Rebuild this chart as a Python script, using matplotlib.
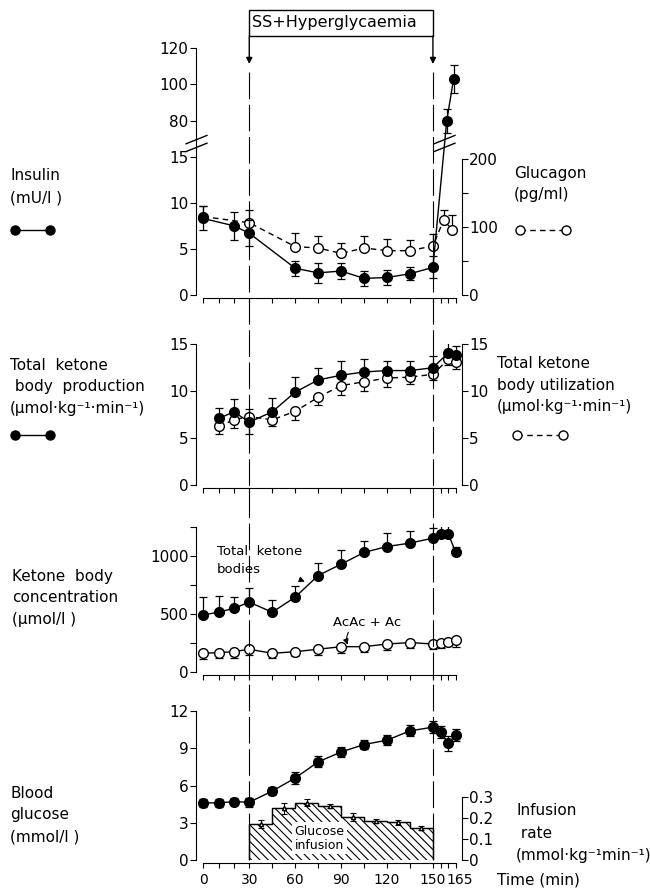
import matplotlib
matplotlib.use("Agg")
import matplotlib.pyplot as plt
import numpy as np
from matplotlib import transforms as mtransforms
from matplotlib.lines import Line2D
from matplotlib.patches import Rectangle
from matplotlib.path import Path

plt.rcParams['font.family'] = ['DejaVu Sans']
plt.rcParams['font.size'] = 11
plt.rcParams['hatch.linewidth'] = 0.8

# ---- data ----
# insulin (mU/l), filled circles
ins_t = [0, 20, 30, 60, 75, 90, 105, 120, 135, 150, 159, 163.5]
ins = [8.3, 7.5, 6.7, 2.9, 2.4, 2.6, 1.8, 1.9, 2.3, 3.0, 80, 103]
ins_err = [1.3, 1.5, 1.4, 0.8, 1.1, 0.9, 0.8, 0.8, 0.7, 1.2, 6.5, 7.5]

# glucagon (pg/ml), open circles
glu_t = [0, 30, 60, 75, 90, 105, 120, 135, 150, 157, 162.5]
glu = [115, 106, 71, 69, 61, 69, 65, 65, 72, 110, 96]
glu_err = [15, 18, 20, 17, 16, 17, 17, 16, 18, 14, 21]

# ketone body production / utilization
kb_t = [10, 20, 30, 45, 60, 75, 90, 105, 120, 135, 150, 160, 165]
prod = [7.1, 7.8, 6.7, 7.8, 9.9, 11.2, 11.7, 12.05, 12.2, 12.2, 12.5, 14.1, 13.9]
prod_err = [1.15, 1.4, 1.25, 1.45, 1.6, 1.25, 1.55, 1.4, 1.0, 1.0, 1.3, 1.4, 0.9]
util = [6.25, 6.95, 7.3, 6.95, 7.85, 9.35, 10.6, 11.0, 11.4, 11.5, 11.8, 13.4, 13.1]
util_err = [0.8, 0.9, 0.8, 0.7, 0.9, 0.8, 1.0, 1.0, 0.95, 0.7, 0.6, 0.65, 0.7]
prod_up = [True, True, False, True, True, True, True, True, True, True, True, True, True]

# ketone body concentration (umol/l)
conc_t = [0, 10, 20, 30, 45, 60, 75, 90, 105, 120, 135, 150, 155, 160, 165]
tkb = [493, 516, 550, 602, 516, 645, 831, 928, 1029, 1080, 1109, 1152, 1187, 1187, 1029]
tkb_err = [150, 135, 100, 120, 106, 100, 106, 124, 94, 115, 100, 90, 80, 95, 50]
acac = [163, 169, 177, 198, 163, 177, 198, 220, 220, 243, 255, 243, 249, 258, 278]
acac_err = [50, 45, 50, 50, 40, 40, 50, 57, 50, 50, 50, 40, 40, 35, 57]

# blood glucose (mmol/l)
glc_t = [0, 10, 20, 30, 45, 60, 75, 90, 105, 120, 135, 150, 155, 160, 165]
glc = [4.6, 4.6, 4.7, 4.65, 5.55, 6.6, 7.9, 8.7, 9.3, 9.65, 10.4, 10.7, 10.3, 9.4, 10.05]
glc_err = [0.3, 0.3, 0.3, 0.35, 0.35, 0.45, 0.45, 0.4, 0.35, 0.4, 0.45, 0.5, 0.5, 0.6, 0.5]

# glucose infusion rate (mmol/kg/min), 15 min steps
inf_edges = [30, 45, 60, 75, 90, 105, 120, 135, 150]
inf_rate = [0.171, 0.245, 0.272, 0.256, 0.205, 0.186, 0.178, 0.15]
inf_err = [0.02, 0.025, 0.018, 0.01, 0.02, 0.01, 0.01, 0.01]

x_major = [0, 30, 60, 90, 120, 150, 165]
x_minor = [10, 20, 45, 75, 105, 135, 155, 160]

W, H = 650, 890
fig = plt.figure(figsize=(W / 100, H / 100), dpi=100)


def rect(top, bottom):
    return [196 / W, 1 - bottom / H, (461.7 - 196) / W, (bottom - top) / H]


def style(ax, labels=False):
    ax.set_xlim(-4.8, 168.8)
    for s in ['top', 'right']:
        ax.spines[s].set_visible(False)
    ax.spines['bottom'].set_bounds(0, 165)
    ax.spines['bottom'].set_position(('outward', 2))
    ax.set_xticks(x_major)
    ax.set_xticks(x_minor, minor=True)
    ax.tick_params(axis='x', which='both', direction='out', length=3.5, width=0.8)
    ax.tick_params(axis='y', which='both', direction='out', length=4, width=0.8, pad=1.5)
    if not labels:
        ax.set_xticklabels([])
    ax.patch.set_visible(False)


def style_right(axr, lo, hi):
    for s in ['top', 'left', 'bottom']:
        axr.spines[s].set_visible(False)
    axr.spines['right'].set_bounds(lo, hi)
    axr.tick_params(axis='y', which='both', direction='out', length=4, width=0.8, pad=1.5)
    axr.tick_params(axis='x', which='both', bottom=False, labelbottom=False)


# piecewise scale for the broken insulin axis (0-16.5 and 68-120)
def fwd(y):
    y = np.asarray(y, dtype=float)
    return np.where(y <= 16.5, y * 9.2, np.where(y >= 68, 151.8 + (y - 68) * 1.82, 151.8))


def inv(p):
    p = np.asarray(p, dtype=float)
    return np.where(p <= 151.8, p / 9.2, 68 + (p - 151.8) / 1.82)


brk = Path([(-1, -0.75), (1, 0.05), (-1, -0.05), (1, 0.75)],
           [Path.MOVETO, Path.LINETO, Path.MOVETO, Path.LINETO])

fc = dict(marker='o', ms=7, mfc='black', mec='black', color='black', lw=1,
          ecolor='black', elinewidth=0.9, capsize=3, capthick=0.9)
oc = dict(marker='o', ms=7, mfc='white', mec='black', color='black', lw=1,
          ecolor='black', elinewidth=0.9, capsize=3, capthick=0.9)

# ---- panel 1: insulin / glucagon ----
ax1 = fig.add_axes(rect(48, 295))
ax1.set_yscale('function', functions=(fwd, inv))
ax1.set_ylim(0, 120)
style(ax1)
ax1.set_yticks([0, 5, 10, 15, 80, 100, 120])
ax1.set_yticklabels(['0', '5', '10', '15', '80', '100', '120'])
ax1.errorbar(ins_t, ins, yerr=ins_err, zorder=4, **fc)
ax1.plot([-4.8], [16.5], marker=brk, ms=16, mew=1, color='black', ls='none', clip_on=False)
ax1.plot([157.5], [16.5], marker=brk, ms=16, mew=1, color='black', ls='none', clip_on=False)

ax1b = ax1.twinx()
ax1b.set_ylim(0, 246.4 / 0.68)
style_right(ax1b, 0, 200)
ax1b.set_yticks([0, 100, 200])
ax1b.set_yticks([50, 150], minor=True)
ax1b.errorbar(glu_t, glu, yerr=[np.zeros(len(glu)), glu_err], ls=(0, (4, 3)), **oc)
ax1.set_zorder(ax1b.get_zorder() + 1)

# ---- panel 2: ketone body production / utilization ----
ax2 = fig.add_axes(rect(344.3, 485))
ax2.set_ylim(0, 15)
style(ax2)
ax2.set_yticks([0, 5, 10, 15])
up = np.array(prod_up)
pe = np.array(prod_err)
ue = np.array(util_err)
ax2b = ax2.twinx()
ax2b.set_ylim(0, 15)
style_right(ax2b, 0, 15)
ax2b.set_yticks([0, 5, 10, 15])
ax2b.errorbar(kb_t, util, yerr=[np.where(up, ue, 0), np.where(up, 0, ue)], ls=(0, (4, 3)), **oc)
ax2.errorbar(kb_t, prod, yerr=[np.where(up, 0, pe), np.where(up, pe, 0)], zorder=4, **fc)
ax2.set_zorder(ax2b.get_zorder() + 1)

# ---- panel 3: ketone body concentration ----
ax3 = fig.add_axes(rect(526.7, 672.3))
ax3.set_ylim(0, 1250)
style(ax3)
ax3.set_yticks([0, 500, 1000])
ax3.set_yticks([250, 750, 1250], minor=True)
ax3.errorbar(conc_t, acac, yerr=[acac_err, np.zeros(len(acac))], **oc)
ax3.errorbar(conc_t, tkb, yerr=[np.zeros(len(tkb)), tkb_err], **fc)
ax3.annotate('Total  ketone\nbodies', xy=(68, 770), xytext=(217 / W, 1 - 545 / H),
             textcoords='figure fraction', fontsize=9.5, va='top', ha='left', linespacing=1.5,
             arrowprops=dict(arrowstyle='-|>', lw=0.8, color='black', shrinkA=0, shrinkB=2,
                             mutation_scale=8,
                             relpos=(0.85, 0.45), connectionstyle='arc3,rad=0.3'))
ax3.annotate('AcAc + Ac', xy=(95, 215), xytext=(333 / W, 1 - 623 / H),
             textcoords='figure fraction', fontsize=9.5, va='center', ha='left',
             arrowprops=dict(arrowstyle='-|>', lw=0.8, color='black', shrinkA=0, shrinkB=2,
                             mutation_scale=8,
                             relpos=(0.25, 0.0), connectionstyle='arc3,rad=0.3'))

# ---- panel 4: blood glucose + infusion ----
ax4 = fig.add_axes(rect(711, 860))
ax4.set_ylim(0, 12)
style(ax4, labels=True)
ax4.set_yticks([0, 3, 6, 9, 12])
ax4.tick_params(axis='x', labelsize=10)
# the 150 and 165 labels sit right next to each other
lab165 = ax4.get_xticklabels()[-1]
lab165.set_transform(lab165.get_transform() +
                     mtransforms.ScaledTranslation(0.04, 0, fig.dpi_scale_trans))
ax4.errorbar(glc_t, glc, yerr=glc_err, **fc)

ax4b = ax4.twinx()
ax4b.set_ylim(0, 149 / 211)
style_right(ax4b, 0, 0.3)
ax4b.set_yticks([0, 0.1, 0.2, 0.3])
ax4b.set_yticklabels(['0', '0.1', '0.2', '0.3'])
ax4b.stairs(inf_rate, inf_edges, fill=True, facecolor='white', edgecolor='black',
            hatch='\\\\\\\\', lw=0.9)
ax4b.stairs(inf_rate, inf_edges, fill=False, edgecolor='black', lw=0.9)
mid = (np.array(inf_edges[:-1]) + np.array(inf_edges[1:])) / 2
ax4b.errorbar(mid, inf_rate, yerr=inf_err, marker='^', ms=3, mfc='white', mec='black',
              ls='none', ecolor='black', elinewidth=0.8, capsize=2.5, capthick=0.8)
ax4b.text(76, 0.104, 'Glucose\ninfusion', ha='center', va='center', fontsize=9,
          linespacing=1.1, bbox=dict(facecolor='white', edgecolor='none', pad=2))
ax4.set_zorder(ax4b.get_zorder() + 1)

# ---- SS + hyperglycaemia box, arrows, dashed lines ----
bt = mtransforms.blended_transform_factory(ax1.transData, fig.transFigure)
fig.add_artist(Rectangle((30, 1 - 36 / H), 120, 26 / H, transform=bt, fill=False,
                         edgecolor='black', lw=1))
fig.text(252 / W, 1 - 23 / H, 'SS+Hyperglycaemia', fontsize=11.5, va='center', ha='left')
for t in [30, 150]:
    ax1.annotate('', xy=(t, 1 - 64 / H), xytext=(t, 1 - 36 / H), xycoords=bt, textcoords=bt,
                 arrowprops=dict(arrowstyle='-|>', lw=1, color='black', shrinkA=0, shrinkB=0,
                                 mutation_scale=9))
    fig.add_artist(Line2D([t, t], [1 - 72 / H, 1 - 860 / H], transform=bt, color='black',
                          lw=0.8, dashes=(24, 5)))

# ---- side labels and legend keys ----
fig.text(10 / W, 1 - 187 / H, 'Insulin\n(mU/l )', va='center', ha='left', linespacing=1.6)
fig.text(10 / W, 1 - 387 / H, 'Total  ketone\n body  production\n(μmol·kg⁻¹·min⁻¹)',
         va='center', ha='left', linespacing=1.55)
fig.text(12 / W, 1 - 598 / H, 'Ketone  body\nconcentration\n(μmol/l )', va='center',
         ha='left', linespacing=1.55)
fig.text(10 / W, 1 - 815 / H, 'Blood\nglucose\n(mmol/l )', va='center', ha='left',
         linespacing=1.55)
fig.text(514 / W, 1 - 184 / H, 'Glucagon\n(pg/ml)', va='center', ha='left', linespacing=1.5)
fig.text(497 / W, 1 - 385 / H, 'Total ketone\nbody utilization\n(μmol·kg⁻¹·min⁻¹)',
         va='center', ha='left', linespacing=1.55)
fig.text(516 / W, 1 - 833 / H, 'Infusion\n rate\n(mmol·kg⁻¹min⁻¹)', va='center',
         ha='left', linespacing=1.6)
fig.text(497 / W, 1 - 880 / H, 'Time (min)', va='center', ha='left')

for y in [230, 435]:
    fig.add_artist(Line2D([15 / W, 50 / W], [1 - y / H, 1 - y / H], transform=fig.transFigure,
                          color='black', lw=1, marker='o', ms=6.5, mfc='black'))
for x0, y in [(520, 230), (517, 435)]:
    fig.add_artist(Line2D([x0 / W, (x0 + 46) / W], [1 - y / H, 1 - y / H],
                          transform=fig.transFigure, color='black', lw=1, ls=(0, (4, 3)),
                          marker='o', ms=6.5, mfc='white', mec='black'))

fig.savefig('out.png', dpi=100)
